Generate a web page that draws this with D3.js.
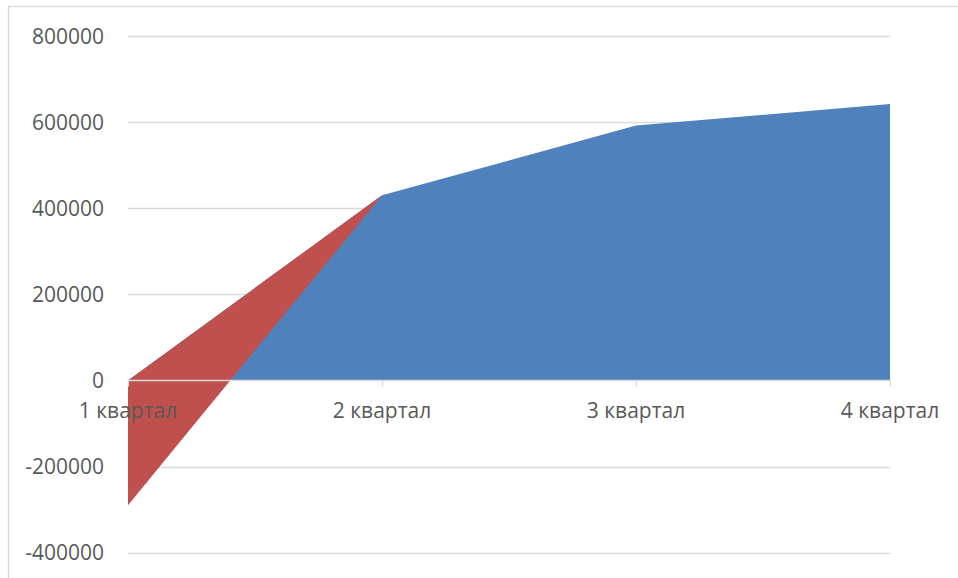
<!DOCTYPE html>
<html>
<head>
<meta charset="utf-8">
<script src="https://cdn.jsdelivr.net/npm/d3@7"></script>
<style>
  html, body { margin: 0; padding: 0; background: #fff; }
  svg { display: block; }
  text { font-family: "Open Sans", sans-serif; fill: #595959; }
</style>
</head>
<body>
<div id="chart"></div>
<script>
// quarters on the category axis
let categories = ['1 квартал', '2 квартал', '3 квартал', '4 квартал'];
// stacked area series (Excel default names)
let series1 = [0, 430000, 592000, 642000];
let series2 = [-290000, 0, 0, 0];
let yTicks = [-400000, -200000, 0, 200000, 400000, 600000, 800000];

let width = 958, height = 578;

let svg = d3.select('#chart').append('svg')
    .attr('width', width)
    .attr('height', height);

// chart border
svg.append('rect')
    .attr('x', 8.5).attr('y', 6.5)
    .attr('width', width + 20).attr('height', height + 20)
    .style('fill', 'none')
    .style('stroke', '#d9d9d9')
    .style('stroke-width', 1.3);

let x = d3.scalePoint()
    .domain(categories)
    .range([128, 890]);

let y = d3.scaleLinear()
    .domain([-400000, 800000])
    .range([552.7, 36]);

// gridlines (behind the areas)
svg.append('g').selectAll('line')
    .data(yTicks.filter(d => d !== 0))
    .join('line')
    .attr('x1', 128).attr('x2', 890)
    .attr('y1', d => Math.round(y(d)) + 0.5)
    .attr('y2', d => Math.round(y(d)) + 0.5)
    .style('stroke', '#d9d9d9')
    .style('stroke-width', 1.3);

let table = categories.map((c, i) => ({cat: c, s1: series1[i], s2: series2[i]}));
let stacked = d3.stack()
    .keys(['s1', 's2'])
    .offset(d3.stackOffsetNone)(table);

let colors = {s1: '#4f81bd', s2: '#c0504d'};

let area = d3.area()
    .x(d => x(d.data.cat))
    .y0(d => y(d[0]))
    .y1(d => y(d[1]));

svg.append('g').selectAll('path')
    .data(stacked)
    .join('path')
    .attr('d', area)
    .style('fill', d => colors[d.key]);

// zero axis line + category ticks (in front)
let zeroY = Math.round(y(0)) + 0.5;
svg.append('line')
    .attr('x1', 128).attr('x2', 890)
    .attr('y1', zeroY).attr('y2', zeroY)
    .style('stroke', '#d9d9d9')
    .style('stroke-width', 1.3);

svg.append('g').selectAll('line')
    .data(categories)
    .join('line')
    .attr('x1', d => Math.round(x(d)) + 0.5)
    .attr('x2', d => Math.round(x(d)) + 0.5)
    .attr('y1', zeroY).attr('y2', zeroY + 6)
    .style('stroke', '#d9d9d9')
    .style('stroke-width', 1.3);

// value labels
svg.append('g').selectAll('text')
    .data(yTicks)
    .join('text')
    .attr('x', 104)
    .attr('y', d => y(d) + 7.5)
    .attr('text-anchor', 'end')
    .style('font-size', '21px')
    .text(d => d);

// category labels
svg.append('g').selectAll('text')
    .data(categories)
    .join('text')
    .attr('x', d => x(d))
    .attr('y', 418)
    .attr('text-anchor', 'middle')
    .style('font-size', '21px')
    .text(d => d);
</script>
</body>
</html>
